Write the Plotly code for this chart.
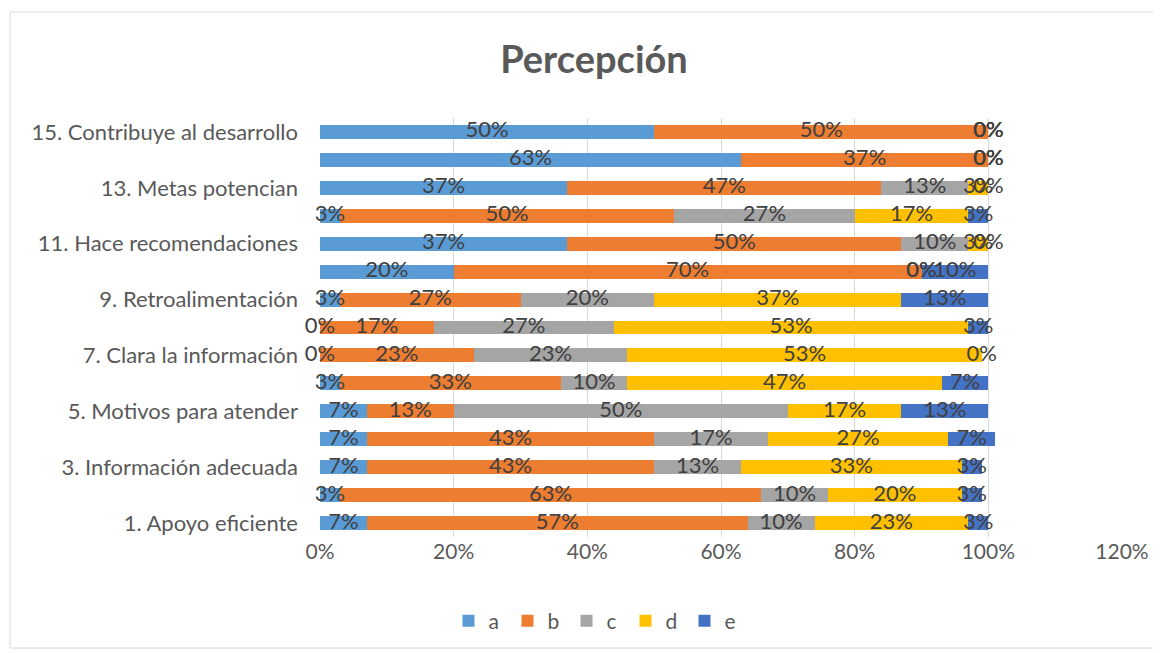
import plotly.graph_objects as go

items = list(range(1, 16))
tick_items = [1, 3, 5, 7, 9, 11, 13, 15]
tick_labels = ["1. Apoyo eficiente", "3. Información adecuada", "5. Motivos para atender",
               "7. Clara la información", "9. Retroalimentación", "11. Hace recomendaciones",
               "13. Metas potencian", "15. Contribuye al desarrollo"]

series_names = ["a", "b", "c", "d", "e"]
a = [7, 3, 7, 7, 7, 3, 0, 0, 3, 20, 37, 3, 37, 63, 50]
b = [57, 63, 43, 43, 13, 33, 23, 17, 27, 70, 50, 50, 47, 37, 50]
c = [10, 10, 13, 17, 50, 10, 23, 27, 20, 0, 10, 27, 13, 0, 0]
d = [23, 20, 33, 27, 17, 47, 53, 53, 37, 0, 3, 17, 3, 0, 0]
e = [3, 3, 3, 7, 13, 7, 0, 3, 13, 10, 0, 3, 0, 0, 0]
series_values = [a, b, c, d, e]
colors = ["#5B9BD5", "#ED7D31", "#A5A5A5", "#FFC000", "#4472C4"]

FONT = "Lato, 'Open Sans', sans-serif"
OFF = 8  # browser body margin

fig = go.Figure()
cum = [0] * len(items)
label_x, label_y, label_t = [], [], []
for name, vals, col in zip(series_names, series_values, colors):
    fig.add_trace(go.Bar(y=items, x=vals, name=name, orientation="h",
                         marker=dict(color=col, line=dict(width=0)), hoverinfo="x+name"))
    for i, v in enumerate(vals):
        label_x.append(cum[i] + v / 2)
        label_y.append(items[i])
        label_t.append(f"{v}%")
        cum[i] += v

fig.add_trace(go.Scatter(x=label_x, y=label_y, text=label_t, mode="text",
                         textfont=dict(family=FONT, size=22, color="#404040"),
                         cliponaxis=False, showlegend=False, hoverinfo="skip"))

fig.update_layout(
    barmode="stack",
    bargap=0.5,
    width=1161 - OFF, height=653 - OFF,
    paper_bgcolor="white", plot_bgcolor="white",
    margin=dict(l=320 - OFF, r=39 - OFF, t=118 - OFF, b=116 - OFF),
    title=dict(text="<b>Percepción</b>", x=(594 - OFF) / (1161 - OFF), xanchor="center",
               y=1 - (60 - OFF) / (653 - OFF), yanchor="middle",
               font=dict(family=FONT, size=38, color="#595959")),
    font=dict(family=FONT, size=22, color="#595959"),
    legend=dict(orientation="h", x=(596 - 320) / 802, xanchor="center",
                y=(537 - 621) / 419, yanchor="middle",
                font=dict(family=FONT, size=21, color="#595959"), itemwidth=30,
                entrywidth=14, entrywidthmode="pixels", traceorder="normal"),
    xaxis=dict(range=[0, 120], dtick=20, ticksuffix="%", showgrid=True, gridcolor="#D9D9D9",
               gridwidth=1, zeroline=False, showline=False, ticks="",
               tickfont=dict(family=FONT, size=21, color="#595959")),
    yaxis=dict(range=[0.5, 15.5], tickvals=tick_items, ticktext=tick_labels, showgrid=False,
               zeroline=False, showline=False, ticks="", ticklabelstandoff=21,
               tickfont=dict(family=FONT, size=22, color="#595959")),
    shapes=[dict(type="rect", xref="paper", yref="paper", x0=-0.3865, x1=1.0449,
                 y0=-0.265, y1=1.253, line=dict(color="#D9D9D9", width=1),
                 fillcolor="rgba(0,0,0,0)", layer="below")],
)

fig.write_html("out.html")
